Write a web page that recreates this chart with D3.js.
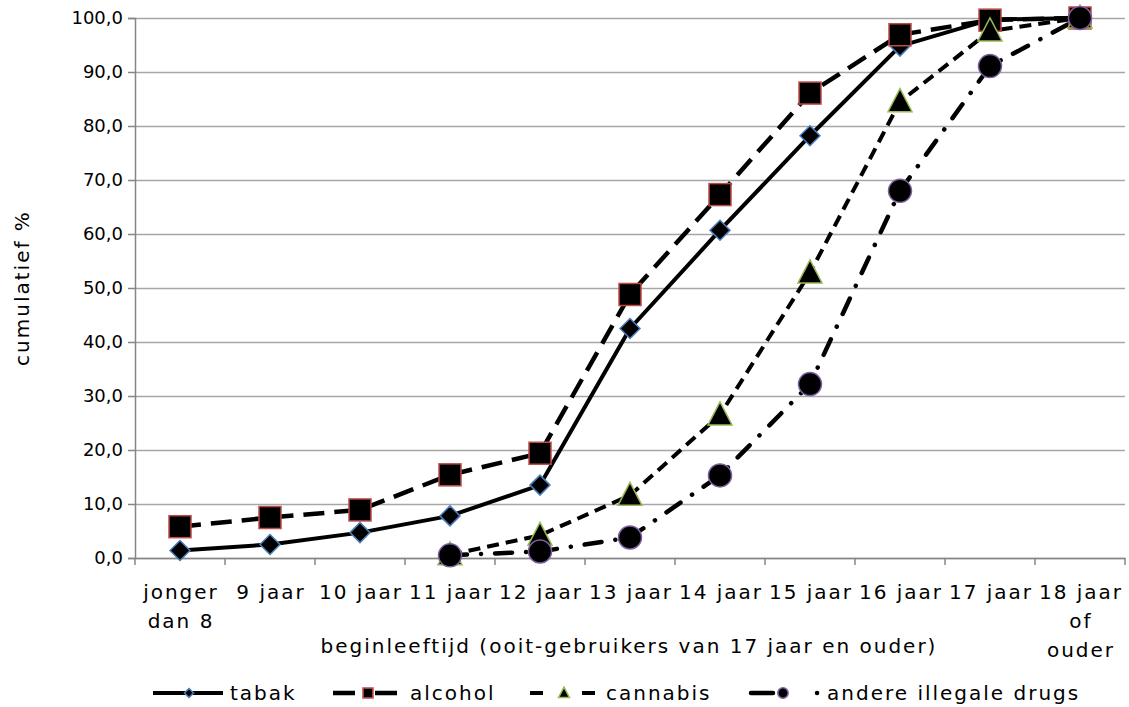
<!DOCTYPE html>
<html>
<head>
<meta charset="utf-8">
<script src="https://cdn.jsdelivr.net/npm/d3@7"></script>
<style>
  body { margin: 0; background: #fff; }
  text { font-family: "DejaVu Sans", Verdana, sans-serif; fill: #000; }
  .lbl { font-size: 20px; letter-spacing: 2px; }
</style>
</head>
<body>
<svg width="1129" height="707"></svg>
<script>
// categorieen (beginleeftijd)
var categories = ["jonger dan 8", "9 jaar", "10 jaar", "11 jaar", "12 jaar", "13 jaar",
  "14 jaar", "15 jaar", "16 jaar", "17 jaar", "18 jaar of ouder"];
var yTicks = [0, 10, 20, 30, 40, 50, 60, 70, 80, 90, 100];

var tabak    = [1.4, 2.5, 4.7, 7.8, 13.5, 42.5, 60.7, 78.2, 94.8, 99.7, 100];
var alcohol  = [5.8, 7.5, 8.9, 15.4, 19.4, 48.8, 67.3, 86.1, 96.9, 99.6, 100];
var cannabis = [null, null, null, 0.6, 4.2, 11.6, 26.5, 52.8, 84.5, 97.6, 100];
var andere   = [null, null, null, 0.5, 1.2, 3.8, 15.3, 32.2, 68.0, 91.1, 100];

var series = [
  {name: "tabak", values: tabak, dash: null, cap: "butt", legDash: null,
    marker: "diamond", stroke: "#4a7ebb", width: 4},
  {name: "alcohol", values: alcohol, dash: "21,10", cap: "butt", legDash: "22,20,22",
    marker: "square", stroke: "#be4b48", width: 4.5},
  {name: "cannabis", values: cannabis, dash: "12,7", cap: "butt", legDash: "13,39,13",
    marker: "triangle", stroke: "#98b954", width: 4},
  {name: "andere illegale drugs", values: andere, dash: "17,14,0.1,14", cap: "round", legDash: "22,44,0.1,40",
    marker: "circle", stroke: "#7d5fa0", width: 4.5}
];

var svg = d3.select("svg");
var margin = {left: 135, right: 4, top: 18, bottom: 149};
var innerWidth = 1129 - margin.left - margin.right;
var innerHeight = 707 - margin.top - margin.bottom;
var g = svg.append("g").attr("transform", `translate(${margin.left},${margin.top})`);

var xScale = d3.scaleBand().domain(categories).range([0, 990]).padding(0);
var yScale = d3.scaleLinear().domain([0, 100]).range([innerHeight, 0]);
var xc = d => xScale(d) + xScale.bandwidth() / 2;

// rasterlijnen
g.append("g")
  .call(d3.axisLeft(yScale).tickValues(yTicks).tickSize(-990).tickFormat(""))
  .call(a => a.select(".domain").remove())
  .selectAll("line").attr("stroke", "#a6a6a6").attr("stroke-width", 1.5);

// y-as
var yAxisG = g.append("g")
  .call(d3.axisLeft(yScale).tickValues(yTicks).tickSize(7).tickPadding(5)
    .tickFormat(d => d3.format(".1f")(d).replace(".", ",")));
yAxisG.select(".domain").attr("stroke", "#868686").attr("stroke-width", 1.5);
yAxisG.selectAll("line").attr("stroke", "#868686").attr("stroke-width", 1.5);
yAxisG.selectAll("text").style("font-size", "18px").style("font-family", "DejaVu Sans, Verdana, sans-serif");

// x-as
var xAxisG = g.append("g").attr("transform", `translate(0,${innerHeight})`)
  .call(d3.axisBottom(xScale).tickSize(0).tickFormat(""));
xAxisG.select(".domain").attr("stroke", "#868686").attr("stroke-width", 1.5);
xAxisG.selectAll(".bound").data(d3.range(categories.length + 1)).enter()
  .append("line")
  .attr("x1", i => i * xScale.bandwidth()).attr("x2", i => i * xScale.bandwidth())
  .attr("y1", 0).attr("y2", 7)
  .attr("stroke", "#868686").attr("stroke-width", 1.5);

// labels, afgebroken als in Excel
var wrapped = {"jonger dan 8": ["jonger", "dan 8"], "18 jaar of ouder": ["18 jaar", "of", "ouder"]};
categories.forEach(function(c) {
  var lines = wrapped[c] || [c];
  var t = g.append("text")
    .attr("class", "lbl")
    .attr("x", xc(c)).attr("y", innerHeight + 41)
    .attr("text-anchor", "middle");
  lines.forEach(function(l, i) {
    t.append("tspan").attr("x", xc(c) + 1).attr("dy", i == 0 ? 0 : 29).text(l);
  });
});

g.append("text")
  .attr("class", "lbl")
  .attr("x", 494).attr("y", innerHeight + 95)
  .attr("text-anchor", "middle")
  .text("beginleeftijd (ooit-gebruikers van 17 jaar en ouder)");

svg.append("text")
  .attr("class", "lbl")
  .attr("transform", "translate(29,288) rotate(-90)")
  .attr("text-anchor", "middle")
  .text("cumulatief %");

// lijnen (recht, geen smoothing)
var line = d3.line()
  .defined(d => d.v != null)
  .x(d => xc(d.c))
  .y(d => yScale(d.v));

function drawMarker(sel, type, stroke) {
  if (type == "diamond") {
    sel.append("path").attr("d", "M0,-10L10,0L0,10L-10,0Z")
      .attr("fill", "#000").attr("stroke", stroke).attr("stroke-width", 1.5);
  } else if (type == "square") {
    sel.append("rect").attr("x", -11).attr("y", -11).attr("width", 22).attr("height", 22)
      .attr("fill", "#000").attr("stroke", stroke).attr("stroke-width", 1.5);
  } else if (type == "triangle") {
    sel.append("path").attr("d", "M0,-13L12,10L-12,10Z")
      .attr("fill", "#000").attr("stroke", stroke).attr("stroke-width", 1.5);
  } else {
    sel.append("circle").attr("r", 11.5)
      .attr("fill", "#000").attr("stroke", stroke).attr("stroke-width", 1.5);
  }
}

series.forEach(function(s) {
  var pts = categories.map((c, i) => ({c: c, v: s.values[i]}));
  g.append("path")
    .datum(pts)
    .attr("fill", "none")
    .attr("stroke", "#000")
    .attr("stroke-width", s.width)
    .attr("stroke-linecap", s.cap)
    .attr("stroke-linejoin", "round")
    .attr("stroke-dasharray", s.dash)
    .attr("d", line);
});

series.forEach(function(s) {
  var pts = categories.map((c, i) => ({c: c, v: s.values[i]})).filter(d => d.v != null);
  g.selectAll(null).data(pts).enter()
    .append("g")
    .attr("transform", d => `translate(${xc(d.c)},${yScale(d.v)})`)
    .each(function() { drawMarker(d3.select(this), s.marker, s.stroke); });
});

// legenda
var legend = [
  {x1: 153, x2: 223, mx: 189, tx: 230},
  {x1: 333, x2: 397, mx: 368, tx: 410},
  {x1: 530, x2: 595, mx: 564, tx: 606},
  {x1: 751, x2: 822, mx: 783, tx: 823}
];
var ly = 693;
series.forEach(function(s, i) {
  var L = legend[i];
  svg.append("line")
    .attr("x1", L.x1).attr("x2", L.x2).attr("y1", ly).attr("y2", ly)
    .attr("stroke", "#000").attr("stroke-width", s.width)
    .attr("stroke-linecap", s.cap)
    .attr("stroke-dasharray", s.legDash);
  var m = svg.append("g")
    .attr("transform", `translate(${L.mx},${ly}) scale(0.45)`);
  drawMarker(m, s.marker, s.stroke);
  m.selectAll("*").attr("stroke-width", 3.5);
  svg.append("text")
    .attr("class", "lbl")
    .attr("x", L.tx + (i == 3 ? 4 : 0)).attr("y", ly).attr("dy", "0.35em")
    .text(s.name);
});
</script>
</body>
</html>
